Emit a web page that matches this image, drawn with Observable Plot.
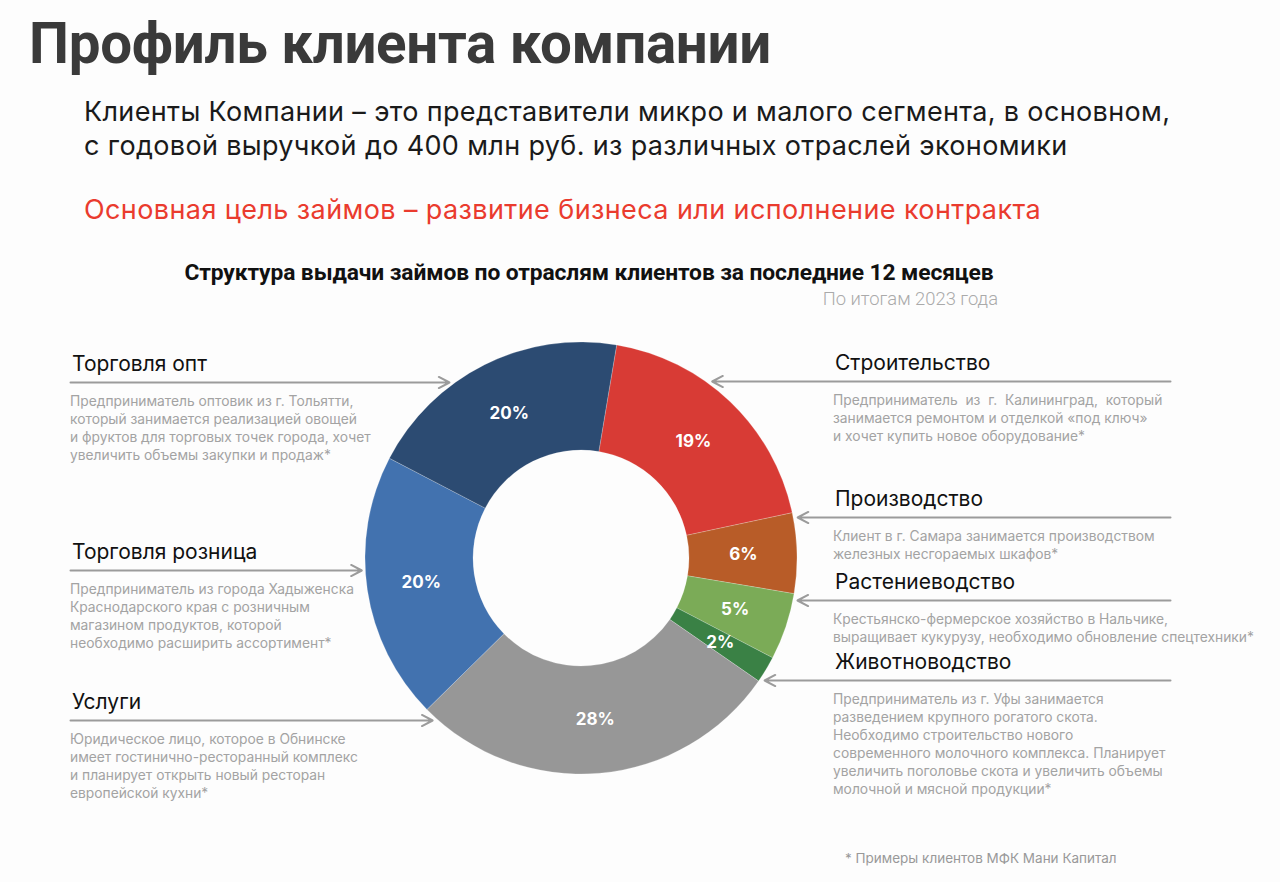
<!DOCTYPE html>
<html>
<head>
<meta charset="utf-8">
<script src="https://cdn.jsdelivr.net/npm/d3@7"></script>
<script src="https://cdn.jsdelivr.net/npm/@observablehq/plot@0.6"></script>
<style>
  html, body { margin: 0; padding: 0; background: #fdfdfd; }
  #page { position: relative; width: 1280px; height: 882px; overflow: hidden; font-family: Inter, "Noto Sans", sans-serif; }
  .abs { position: absolute; white-space: nowrap; }
  #title { left: 29px; top: 11px; font-family: Roboto, sans-serif; font-weight: 700; font-size: 56.5px; color: #3a3a3a; letter-spacing: -0.3px; }
  #sub { left: 84px; top: 95px; font-size: 27px; line-height: 34px; color: #1a1a1a; letter-spacing: 0.35px; }
  #goal { left: 84px; top: 193px; font-size: 27px; color: #ea3b2e; letter-spacing: 0.4px; }
  #ctitle { left: 0; width: 1178px; text-align: center; top: 259px; font-family: Roboto, sans-serif; font-weight: 700; font-size: 22.8px; color: #111; letter-spacing: -0.1px; }
  #cnote { right: 282px; top: 288px; font-family: Roboto, sans-serif; font-weight: 300; font-size: 18.4px; color: #aaa; }
  #foot { left: 845px; top: 850px; font-size: 13.5px; color: #999; }
  .ct { font-size: 21px; color: #111; }
  .cd { font-size: 13.8px; line-height: 18px; color: #a3a3a3; }
  #plot { position: absolute; left: 0; top: 330px; }
</style>
</head>
<body>
<div id="page">
  <div id="title" class="abs">Профиль клиента компании</div>
  <div id="sub" class="abs">Клиенты Компании – это представители микро и малого сегмента, в основном,<br>с годовой выручкой до 400 млн руб. из различных отраслей экономики</div>
  <div id="goal" class="abs">Основная цель займов – развитие бизнеса или исполнение контракта</div>
  <div id="ctitle" class="abs">Структура выдачи займов по отраслям клиентов за последние 12 месяцев</div>
  <div id="cnote" class="abs">По итогам 2023 года</div>
  <div id="plot"></div>
  <div id="foot" class="abs">* Примеры клиентов МФК Мани Капитал</div>
</div>
<script>
// ---- data ----
const sectors = ["Строительство", "Производство", "Растениеводство", "Животноводство", "Услуги", "Торговля розница", "Торговля опт"];
const shares = [19, 6, 5, 2, 28, 20, 20];
const colors = ["#d83b35", "#b85c28", "#7bab57", "#3a8145", "#979797", "#4272af", "#2c4b72"];
const descriptions = [
  ["Предприниматель  из  г.  Калининград,  который", "занимается ремонтом и отделкой «под ключ»", "и хочет купить новое оборудование*"],
  ["Клиент в г. Самара занимается производством", "железных несгораемых шкафов*"],
  ["Крестьянско-фермерское хозяйство в Нальчике,", "выращивает кукурузу, необходимо обновление спецтехники*"],
  ["Предприниматель из г. Уфы занимается", "разведением крупного рогатого скота.", "Необходимо строительство нового", "современного молочного комплекса. Планирует", "увеличить поголовье скота и увеличить объемы", "молочной и мясной продукции*"],
  ["Юридическое лицо, которое в Обнинске", "имеет гостинично-ресторанный комплекс", "и планирует открыть новый ресторан", "европейской кухни*"],
  ["Предприниматель из города Хадыженска", "Краснодарского края с розничным", "магазином продуктов, которой", "необходимо расширить ассортимент*"],
  ["Предприниматель оптовик из г. Тольятти,", "который занимается реализацией овощей", "и фруктов для торговых точек города, хочет", "увеличить объемы закупки и продаж*"]
];
// callout layout: side of the page and vertical offset of the arrow from the donut centre
const calloutSide = ["right", "right", "right", "right", "left", "left", "left"];
const calloutDy = [-177, -41, 42, 122, 162, 12, -176];

// ---- layout ----
const W = 1280, H = 470;
const cx = 581, cy = 228;           // donut centre inside the svg
const R0 = 108, R1 = 216;           // inner / outer radius
const startAngle = 9.5 * Math.PI / 180;

const data = sectors.map((s, i) => ({sector: s, share: shares[i], color: colors[i], side: calloutSide[i], dy: calloutDy[i], desc: descriptions[i]}));
const pie = d3.pie().sort(null).value(d => d.share).startAngle(startAngle).endAngle(startAngle + 2 * Math.PI);
const arcs = pie(data);
const arcGen = d3.arc().innerRadius(R0).outerRadius(R1);
const labels = arcs.map(a => { const [x, y] = arcGen.centroid(a); return {x, y, text: a.data.share + "%"}; });

const Rtip = 220;
const arrows = data.map(d => {
  const tx = Math.sqrt(Math.max(0, Rtip * Rtip - d.dy * d.dy));
  return d.side === "left"
    ? {x1: 70 - cx, x2: -tx, y: d.dy}
    : {x1: 1170 - cx, x2: tx, y: d.dy};
});

function donut(index, scales) {
  const g = d3.create("svg:g");
  const ox = scales.x(0), oy = scales.y(0), k = scales.x(1) - scales.x(0);
  const gen = d3.arc().innerRadius(R0 * k).outerRadius(R1 * k);
  g.selectAll("path").data(arcs).join("path")
    .attr("transform", `translate(${ox},${oy})`)
    .attr("d", gen)
    .attr("fill", d => d.data.color)
    .attr("stroke", "#ffffff")
    .attr("stroke-opacity", 0.35)
    .attr("stroke-width", 0.6);
  return g.node();
}

const chart = Plot.plot({
  width: W, height: H,
  margin: 0,
  x: {domain: [-cx, W - cx], range: [0, W], axis: null},
  y: {domain: [-cy, H - cy], range: [0, H], axis: null},
  style: {background: "transparent", overflow: "visible"},
  marks: [
    donut,
    Plot.arrow(arrows, {x1: "x1", y1: "y", x2: "x2", y2: "y", stroke: "#9b9b9b", strokeWidth: 2, headLength: 9, headAngle: 55}),
    Plot.text(labels, {x: "x", y: "y", text: "text", fill: "white", fontSize: 17, fontWeight: 700, fontFamily: "Inter, sans-serif"})
  ]
});
document.getElementById("plot").appendChild(chart);

// callout texts (HTML, positioned relative to arrow lines)
const page = document.getElementById("page");
const svgTop = 330;
data.forEach((d, i) => {
  const yLine = svgTop + cy + d.dy;
  const left = d.side === "left" ? 72 : 835;
  const t = document.createElement("div");
  t.className = "abs ct";
  t.textContent = d.sector;
  t.style.left = left + "px";
  t.style.top = (yLine - 31) + "px";
  page.appendChild(t);
  const ds = document.createElement("div");
  ds.className = "abs cd";
  ds.style.left = (left - 2) + "px";
  ds.style.top = (yLine + 10) + "px";
  ds.innerHTML = d.desc.map(s => s.replace(/  /g, "&nbsp; ")).join("<br>");
  page.appendChild(ds);
});
</script>
</body>
</html>
